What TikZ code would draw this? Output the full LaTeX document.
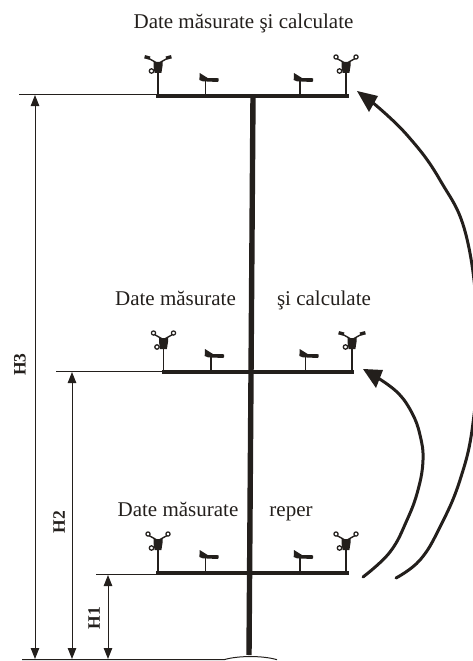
\documentclass[tikz,border=0pt]{standalone}
\usepackage{fontspec}
\setmainfont{Liberation Serif}
\usetikzlibrary{arrows.meta}
\definecolor{ink}{RGB}{35,31,28}
\tikzset{
  x=1pt,y=1pt,
  inkline/.style={draw=ink,line width=1pt},
  postline/.style={draw=ink,line width=1.1pt},
  beamline/.style={draw=ink,line width=3.8pt},
  mastline/.style={draw=ink,line width=5.4pt},
  curveline/.style={draw=ink,line width=3pt,line cap=round},
  headfill/.style={fill=ink},
  dimline/.style={draw=ink,line width=1pt,{Triangle[length=11pt,width=8.5pt]}-{Triangle[length=11pt,width=8.5pt]}},
  caption/.style={font=\fontsize{21}{24}\selectfont,text=ink,inner sep=0pt,anchor=base},
  dimlabel/.style={font=\fontsize{17.5}{20}\selectfont\bfseries,text=ink,rotate=90,inner sep=0pt},
  pics/windbase/.style={code={
    \draw[postline] (0,0) -- (0,24);
    \draw[ink,line width=1.4pt] (-10,37) -- (-2,32.5) (10,37) -- (2,32.5);
    \fill[ink] (-4.5,33) -- (4.5,33) -- (4.5,29) -- (3.4,22) -- (-3.4,22) -- (-4.5,29) -- cycle;
    \draw[ink,fill=white,line width=1.3pt] (-6.5,24) circle (2.2pt);
  }},
  pics/windopen/.style={code={
    \pic {windbase};
    \draw[ink,fill=white,line width=1.2pt] (-10,38) circle (2.1pt) (10,38) circle (2.1pt);
  }},
  pics/windblob/.style={code={
    \pic {windbase};
    \fill[ink,rotate around={-15:(-10.5,37.5)}] (-13.5,35.8) rectangle (-8,39.2);
    \fill[ink,rotate around={15:(10.5,37.5)}] (8,35.8) rectangle (13.5,39.2);
  }},
  pics/vane/.style={code={
    \draw[postline] (0,0) -- (0,14);
    \fill[ink] (-6,22) -- (-6.3,15) -- (-3,13.7) -- (12,13) -- (13,14) -- (13,16.5) -- (11,17) -- (2,17) -- cycle;
  }}
}
\begin{document}
\begin{tikzpicture}
\useasboundingbox (0,-661) rectangle (473,0);

% mast and beams
\coordinate (mastT) at (253,-96);
\coordinate (mastB) at (249,-655);
\draw[mastline] (mastT) -- (mastB);
\coordinate (b3l) at (156,-95.7); \coordinate (b3r) at (349,-95.7);
\coordinate (b2l) at (162,-371.7); \coordinate (b2r) at (354,-371.7);
\coordinate (b1l) at (156,-572.7); \coordinate (b1r) at (349,-572.7);
\draw[beamline] (b3l) -- (b3r);
\draw[beamline] (b2l) -- (b2r);
\draw[beamline] (b1l) -- (b1r);

% sensors
\pic at (158,-95) {windblob};
\pic at (346,-95) {windopen};
\pic at (205.7,-95) {vane};
\pic at (300,-95) {vane};
\pic at (163.5,-371) {windopen};
\pic at (352,-371) {windblob};
\pic at (211,-371) {vane};
\pic at (305.7,-371) {vane};
\pic at (158,-572) {windopen};
\pic at (346,-572) {windopen};
\pic at (205.7,-572) {vane};
\pic at (300,-572) {vane};

% reference lines
\coordinate (r3) at (19,-94); \coordinate (r3e) at (156,-94);
\coordinate (r2) at (56,-371.5); \coordinate (r2e) at (162,-371.5);
\coordinate (r1) at (96,-574); \coordinate (r1e) at (156,-574);
\draw[inkline] (r3) -- (r3e);
\draw[inkline] (r2) -- (r2e);
\draw[inkline] (r1) -- (r1e);

% ground
\coordinate (g0) at (22,-659.7); \coordinate (g1) at (224,-659.7); \coordinate (g2) at (277,-659.7);
\draw[inkline] (g0) -- (g1) .. controls (238,-655.5) and (263,-655.5) .. (g2);

% dimensions
\coordinate (d3t) at (35,-95); \coordinate (d3b) at (35,-659);
\coordinate (d2t) at (72,-372); \coordinate (d2b) at (72,-659);
\coordinate (d1t) at (108,-575); \coordinate (d1b) at (108,-659);
\draw[dimline] (d3t) -- (d3b);
\draw[dimline] (d2t) -- (d2b);
\draw[dimline] (d1t) -- (d1b);
\node[dimlabel] (h3) at (20,-364.5) {H3};
\node[dimlabel] (h2) at (59,-522) {H2};
\node[dimlabel] (h1) at (94,-618) {H1};

% curved arrows
\draw[curveline] plot[smooth,tension=0.7] coordinates {(396,-578) (420,-560) (440,-527) (460,-480) (473,-423) (478,-340) (467,-239) (440,-180) (407,-135) (372,-102)};
\fill[headfill] (357,-91) -- (378,-96) -- (369,-112) -- cycle;
\draw[curveline] plot[smooth,tension=0.7] coordinates {(363,-577) (390,-552) (407,-520) (418,-490) (423,-460) (420,-435) (412,-413) (398,-393) (378,-378)};
\fill[headfill] (363,-369) -- (383,-370) -- (376,-388) -- cycle;

% texts
\node[caption] (t3) at (243.5,-29) {Date măsurate şi calculate};
\node[caption] (t2a) at (175.5,-305.7) {Date măsurate};
\node[caption] (t2b) at (324,-305.7) {şi calculate};
\node[caption] (t1a) at (178,-516) {Date măsurate};
\node[caption] (t1b) at (291,-516) {reper};
\end{tikzpicture}
\end{document}
